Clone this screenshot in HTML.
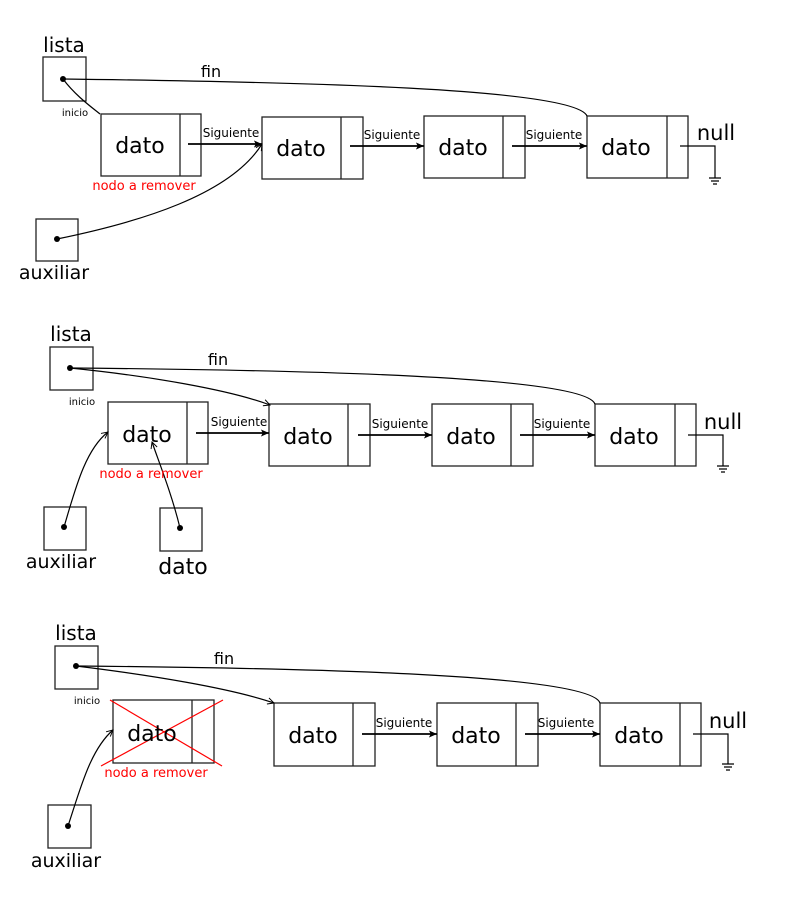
<!DOCTYPE html>
<html><head><meta charset="utf-8"><style>
html,body{margin:0;padding:0;background:#fff;}
svg{display:block;}
text{font-family:"DejaVu Sans","Liberation Sans",sans-serif;fill:#000;}
</style></head><body>
<svg width="791" height="897" viewBox="0 0 791 897" xmlns="http://www.w3.org/2000/svg">
<defs>
<marker id="a" viewBox="0 0 10 10" refX="9" refY="5" markerWidth="8" markerHeight="8" orient="auto" markerUnits="userSpaceOnUse"><path d="M1,1 L9,5 L1,9" fill="none" stroke="#000" stroke-width="1.2"/></marker>
<marker id="b" viewBox="0 0 10 10" refX="9" refY="5" markerWidth="9" markerHeight="9" orient="auto" markerUnits="userSpaceOnUse"><path d="M0,1 L9,5 L0,9 L2,5 Z" fill="#000"/></marker>
</defs>
<g fill="none" stroke="#222" stroke-width="1.3">
<!-- Diagram 1 -->
<rect x="43" y="57" width="43" height="44"/>
<rect x="36" y="219" width="42" height="42"/>
<rect x="101" y="114" width="100" height="62"/><line x1="180" y1="114" x2="180" y2="176"/>
<rect x="262" y="117" width="101" height="62"/><line x1="341" y1="117" x2="341" y2="179"/>
<rect x="424" y="116" width="101" height="62"/><line x1="503" y1="116" x2="503" y2="178"/>
<rect x="587" y="116" width="101" height="62"/><line x1="667" y1="116" x2="667" y2="178"/>
<!-- Diagram 2 -->
<rect x="50" y="347" width="43" height="43"/>
<rect x="44" y="507" width="42" height="43"/>
<rect x="160" y="508" width="42" height="43"/>
<rect x="108" y="402" width="100" height="62"/><line x1="187" y1="402" x2="187" y2="464"/>
<rect x="269" y="404" width="101" height="62"/><line x1="348" y1="404" x2="348" y2="466"/>
<rect x="432" y="404" width="101" height="62"/><line x1="511" y1="404" x2="511" y2="466"/>
<rect x="595" y="404" width="101" height="62"/><line x1="675" y1="404" x2="675" y2="466"/>
<!-- Diagram 3 -->
<rect x="55" y="646" width="43" height="43"/>
<rect x="48" y="805" width="43" height="43"/>
<rect x="113" y="700" width="101" height="63"/><line x1="192" y1="700" x2="192" y2="763"/>
<rect x="274" y="703" width="101" height="63"/><line x1="353" y1="703" x2="353" y2="766"/>
<rect x="437" y="703" width="101" height="63"/><line x1="516" y1="703" x2="516" y2="766"/>
<rect x="600" y="703" width="101" height="63"/><line x1="680" y1="703" x2="680" y2="766"/>
</g>
<g fill="none" stroke="#000" stroke-width="1.2">
<!-- D1 connectors -->
<path d="M63,79 C300,82 575,88 587,116"/>
<path d="M63,79 C75,95 90,106 100,114"/>
<path d="M57,239 C140,222 230,195 262,144" marker-end="url(#a)"/>
<line x1="188" y1="144" x2="262" y2="144" stroke-width="1.8" marker-end="url(#b)"/>
<line x1="350" y1="146" x2="424" y2="146" stroke-width="1.8" marker-end="url(#b)"/>
<line x1="512" y1="146" x2="587" y2="146" stroke-width="1.8" marker-end="url(#b)"/>
<path d="M680,146 H715 V178 M709,178 H721 M711,181 H719 M713,184 H717"/>
<!-- D2 connectors -->
<path d="M70,368 C300,370 585,376 595,404"/>
<path d="M70,368 C150,376 230,390 270,405" marker-end="url(#a)"/>
<path d="M64,527 C75,490 85,450 108,432" marker-end="url(#a)"/>
<path d="M180,528 C172,495 160,465 152,442" marker-end="url(#a)"/>
<line x1="196" y1="433" x2="269" y2="433" stroke-width="1.8" marker-end="url(#b)"/>
<line x1="358" y1="435" x2="432" y2="435" stroke-width="1.8" marker-end="url(#b)"/>
<line x1="520" y1="435" x2="595" y2="435" stroke-width="1.8" marker-end="url(#b)"/>
<path d="M688,435 H723 V466 M717,466 H729 M719,469 H727 M721,472 H725"/>
<!-- D3 connectors -->
<path d="M76,666 C300,668 590,674 600,703"/>
<path d="M76,666 C150,675 230,688 274,703" marker-end="url(#a)"/>
<path d="M68,826 C80,790 90,750 113,730" marker-end="url(#a)"/>
<line x1="362" y1="734" x2="437" y2="734" stroke-width="1.8" marker-end="url(#b)"/>
<line x1="525" y1="734" x2="600" y2="734" stroke-width="1.8" marker-end="url(#b)"/>
<path d="M693,734 H728 V764 M722,764 H734 M724,767 H732 M726,770 H730"/>
</g>
<g stroke="#f00" stroke-width="1.2">
<line x1="110" y1="700" x2="222" y2="766"/>
<line x1="223" y1="700" x2="101" y2="766"/>
</g>
<g fill="#000">
<circle cx="63" cy="79" r="3"/><circle cx="57" cy="239" r="3"/>
<circle cx="70" cy="368" r="3"/><circle cx="64" cy="527" r="3"/><circle cx="180" cy="528" r="3"/>
<circle cx="76" cy="666" r="3"/><circle cx="68" cy="826" r="3"/>
</g>
<g font-size="22" text-anchor="middle">
<text x="64" y="52" font-size="20">lista</text>
<text x="140" y="153">dato</text><text x="301" y="156">dato</text><text x="463" y="155">dato</text><text x="626" y="155">dato</text>
<text x="716" y="140" font-size="21">null</text>
<text x="54" y="279" font-size="19">auxiliar</text>
<text x="71" y="341" font-size="20">lista</text>
<text x="147" y="442">dato</text><text x="308" y="444">dato</text><text x="471" y="444">dato</text><text x="634" y="444">dato</text>
<text x="723" y="429" font-size="21">null</text>
<text x="61" y="568" font-size="19">auxiliar</text>
<text x="183" y="574">dato</text>
<text x="76" y="640" font-size="20">lista</text>
<text x="152" y="741">dato</text><text x="313" y="743">dato</text><text x="476" y="743">dato</text><text x="639" y="743">dato</text>
<text x="728" y="728" font-size="21">null</text>
<text x="66" y="867" font-size="19">auxiliar</text>
</g>
<g font-size="16" text-anchor="middle">
<text x="211" y="77">fin</text><text x="218" y="365">fin</text><text x="224" y="664">fin</text>
</g>
<g font-size="12" text-anchor="middle">
<text x="231" y="137">Siguiente</text><text x="392" y="139">Siguiente</text><text x="554" y="139">Siguiente</text>
<text x="239" y="426">Siguiente</text><text x="400" y="428">Siguiente</text><text x="562" y="428">Siguiente</text>
<text x="404" y="727">Siguiente</text><text x="566" y="727">Siguiente</text>
</g>
<g font-size="10" text-anchor="middle" fill="#222">
<text x="75" y="116">inicio</text><text x="82" y="405">inicio</text><text x="87" y="704">inicio</text>
</g>
<g font-size="13" text-anchor="middle" style="fill:#f00">
<text x="144" y="190" style="fill:#f00">nodo a remover</text>
<text x="151" y="478" style="fill:#f00">nodo a remover</text>
<text x="156" y="777" style="fill:#f00">nodo a remover</text>
</g>
</svg>
</body></html>
